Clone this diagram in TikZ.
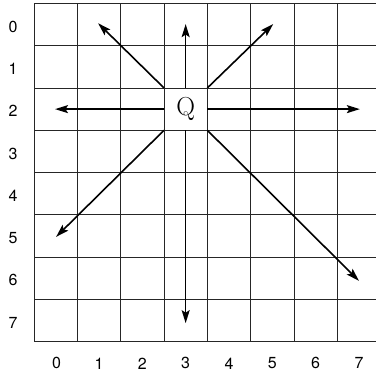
\documentclass[tikz,border=0pt]{standalone}
\usepackage{fontspec}
\setsansfont{TeX Gyre Heros}
\usetikzlibrary{positioning,arrows.meta}

\begin{document}
\begin{tikzpicture}[
    x=43.33pt, y=42.3pt,
    gridline/.style={draw=black!85, line width=0.9pt},
    axislabel/.style={font=\fontsize{16}{16}\selectfont\sffamily, inner sep=0pt},
    cell/.style={minimum width=43.33pt, minimum height=42.3pt, inner sep=0pt, outer sep=0pt, font=\fontsize{26}{26}\selectfont},
    ray/.style={line width=1.6pt, -{Stealth[length=13pt, width=8pt, inset=2.5pt]}}
]
\useasboundingbox (-0.785,-0.761) rectangle (7.893,8.080);

% Grid (right edge runs off the page)
\draw[gridline, step=1] (0,0) grid (7.893,8);

% Row numbers
\node[axislabel] (r0) at (-0.485,7.45) {0};
\node[axislabel] (r1) at (-0.485,6.45) {1};
\node[axislabel] (r2) at (-0.485,5.45) {2};
\node[axislabel] (r3) at (-0.485,4.45) {3};
\node[axislabel] (r4) at (-0.485,3.45) {4};
\node[axislabel] (r5) at (-0.485,2.45) {5};
\node[axislabel] (r6) at (-0.485,1.45) {6};
\node[axislabel] (r7) at (-0.485,0.45) {7};

% Column numbers
\node[axislabel] (c0) at (0.52,-0.51) {0};
\node[axislabel] (c1) at (1.5,-0.51) {1};
\node[axislabel] (c2) at (2.5,-0.51) {2};
\node[axislabel] (c3) at (3.5,-0.51) {3};
\node[axislabel] (c4) at (4.5,-0.51) {4};
\node[axislabel] (c5) at (5.5,-0.51) {5};
\node[axislabel] (c6) at (6.5,-0.51) {6};
\node[axislabel] (c7) at (7.5,-0.51) {7};

% Piece
\node[cell] (q) at (3.5,5.5) {Q};

% Ray ends
\coordinate (n) at (3.5,7.51);
\coordinate (s) at (3.5,0.44);
\coordinate (w) at (0.485,5.5);
\coordinate (e) at (7.52,5.5);
\coordinate (nw) at (1.48,7.53);
\coordinate (ne) at (5.52,7.51);
\coordinate (sw) at (0.51,2.48);
\coordinate (se) at (7.50,1.44);

% Moves
\draw[ray] (q.north) -- (n);
\draw[ray] (q.south) -- (s);
\draw[ray] (q.west) -- (w);
\draw[ray] (q.east) -- (e);
\draw[ray] (q.north west) -- (nw);
\draw[ray] (q.north east) -- (ne);
\draw[ray] (q.south west) -- (sw);
\draw[ray] (q.south east) -- (se);

\end{tikzpicture}
\end{document}
